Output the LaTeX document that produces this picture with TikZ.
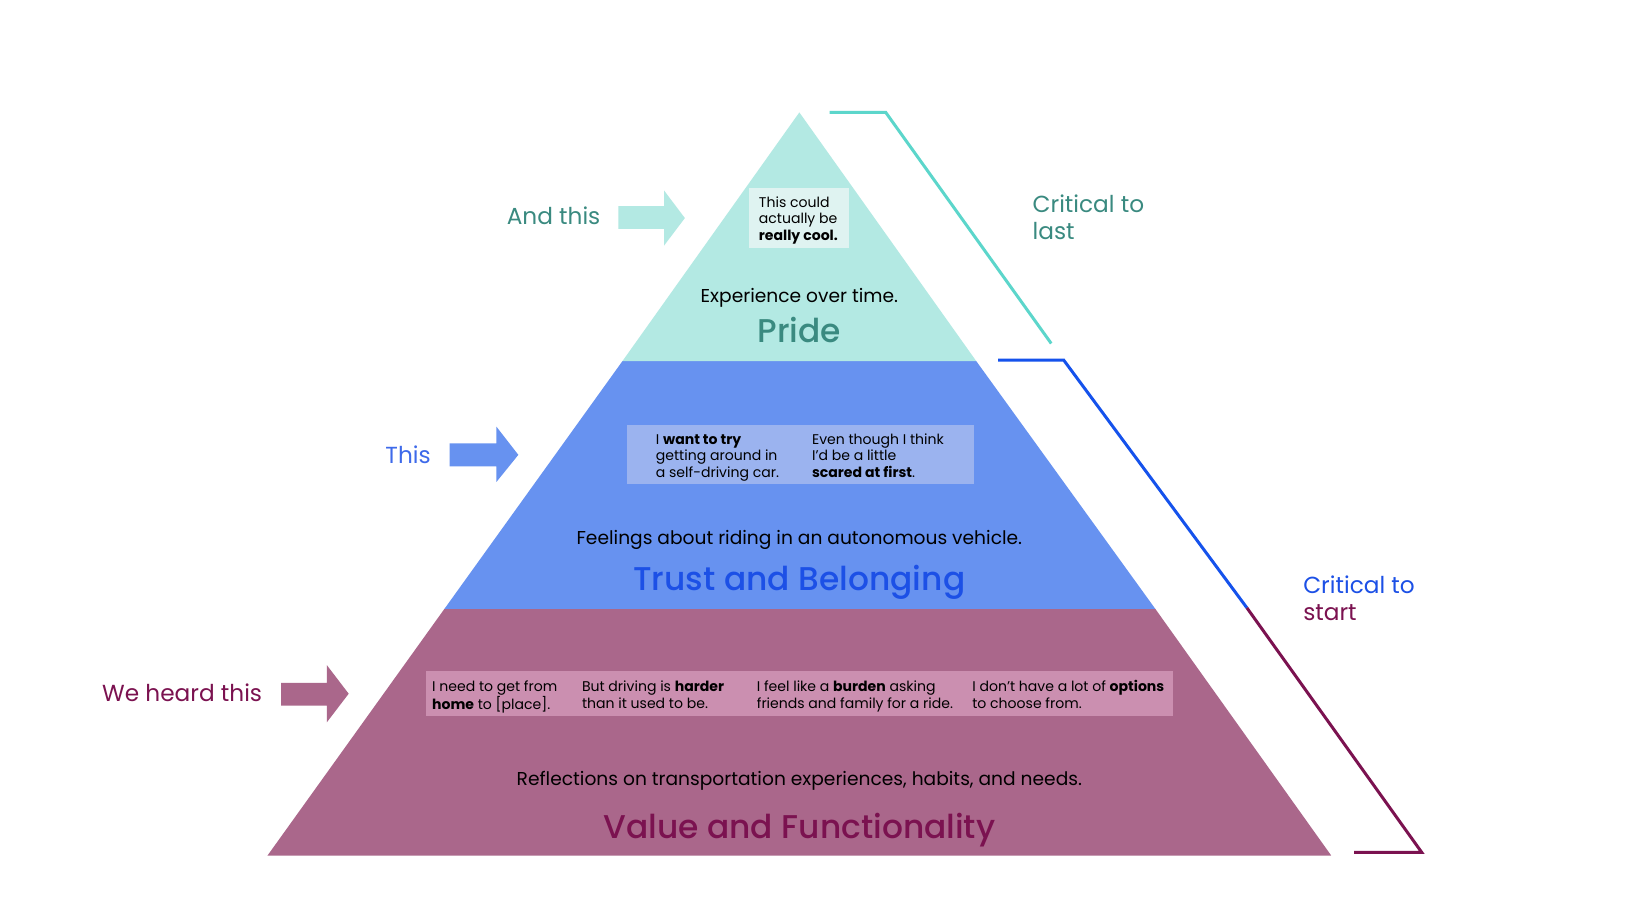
\documentclass[tikz,border=0pt]{standalone}
\usepackage{fontspec}
\setmainfont{Poppins}
\newfontfamily\pmed{Poppins Medium}
\definecolor{tealfill}{HTML}{B3E9E3}
\definecolor{tealbox}{HTML}{DFF3F1}
\definecolor{tealtext}{HTML}{3A8A80}
\definecolor{tealline}{HTML}{5CD6CB}
\definecolor{bluefill}{HTML}{6792F0}
\definecolor{bluebox}{HTML}{9BB3EF}
\definecolor{bluetext}{HTML}{1C50E6}
\definecolor{blueline}{HTML}{1552EC}
\definecolor{purfill}{HTML}{AA678B}
\definecolor{purbox}{HTML}{CB8FB0}
\definecolor{purtext}{HTML}{7B1250}
\newcommand\lns[1]{\vtop{\halign{##\hfil\cr#1\crcr}}}
\begin{document}
\begin{tikzpicture}[x=1.0408bp,y=-1.0408bp,
  quote/.style={inner sep=0pt,anchor=base west,font=\fontsize{14.1}{16.65}\selectfont,text=black},
  sub/.style={inner sep=0pt,anchor=base,font=\fontsize{18.7}{22}\selectfont,text=black},
  title/.style={inner sep=0pt,anchor=base,font=\pmed\fontsize{33}{38}\selectfont},
  side/.style={inner sep=0pt,font=\fontsize{23.3}{27}\selectfont},
  bracket/.style={line width=3pt}]
\useasboundingbox (0,0) rectangle (1568,861);
\fill[white] (0,0) rectangle (1568,861);
% pyramid
\coordinate (apex) at (768,108);
\coordinate (bl) at (257,822);
\coordinate (br) at (1279,822);
\coordinate (l1) at (598,347);
\coordinate (r1) at (938,347);
\coordinate (l2) at (427,585);
\coordinate (r2) at (1110,585);
\fill[purfill] (l2) -- (r2) -- (br) -- (bl) -- cycle;
\fill[bluefill] (l1) -- (r1) -- (r2) -- (l2) -- cycle;
\fill[tealfill] (apex) -- (r1) -- (l1) -- cycle;
% quote boxes
\fill[tealbox] (720,181) rectangle (816,238);
\fill[bluebox] (602,408) rectangle (936,465);
\fill[purbox] (409,645) rectangle (1127,688);
\node[quote] (q0) at (729,199.2) {\lns{This could\cr actually be\cr\textbf{really cool.}}};
\node[quote] (q1) at (630,426.8) {\lns{I \textbf{want to try}\cr getting around in\cr a self-driving car.}};
\node[quote] (q2) at (780,426.8) {\lns{Even though I think\cr I’d be a little\cr\textbf{scared at first}.}};
\node[quote] (q3) at (415,664.3) {\lns{I need to get from\cr\textbf{home} to [place].}};
\node[quote] (q4) at (559,664.3) {\lns{But driving is \textbf{harder}\cr than it used to be.}};
\node[quote] (q5) at (727,664.3) {\lns{I feel like a \textbf{burden} asking\cr friends and family for a ride.}};
\node[quote] (q6) at (934,664.3) {\lns{I don’t have a lot of \textbf{options}\cr to choose from.}};
% tier texts
\node[sub] (s0) at (768,290.6) {Experience over time.};
\node[title,text=tealtext] (t0) at (768,328.6) {Pride};
\node[sub] (s1) at (768,523) {Feelings about riding in an autonomous vehicle.};
\node[title,text=bluetext] (t1) at (768,567.5) {Trust and Belonging};
\node[sub] (s2) at (768,755) {Reflections on transportation experiences, habits, and needs.};
\node[title,text=purtext] (t2) at (768,805.5) {Value and Functionality};
% side labels and arrows
\node[side,anchor=base east,text=tealtext] (a0) at (577,216) {And this};
\node[side,anchor=base east,text=bluetext!85] (a1) at (414,445) {This};
\node[side,anchor=base east,text=purtext] (a2) at (252,674) {We heard this};
\fill[tealfill] (594,198) -- (638,198) -- (638,183) -- (658,209.5) -- (638,236) -- (638,220) -- (594,220) -- cycle;
\fill[bluefill] (432,426) -- (477,426) -- (477,410) -- (498,437) -- (477,463) -- (477,448) -- (432,448) -- cycle;
\fill[purfill] (270,656) -- (314,656) -- (314,639) -- (335,666.5) -- (314,694) -- (314,678) -- (270,678) -- cycle;
% brackets
\draw[bracket,tealline] (797,108) -- (851,108) -- (1010,330);
\draw[bracket,blueline] (959,346) -- (1022,346) -- (1198,584);
\draw[bracket,purtext] (1198,584) -- (1366,819) -- (1301,819);
\node[side,anchor=base west,text=tealtext] (c0) at (992,204) {\lns{Critical to\cr last}};
\node[side,anchor=base west] (c1) at (1252,570) {\lns{\textcolor{bluetext}{Critical to}\cr\textcolor{purtext}{start}}};
\end{tikzpicture}
\end{document}
